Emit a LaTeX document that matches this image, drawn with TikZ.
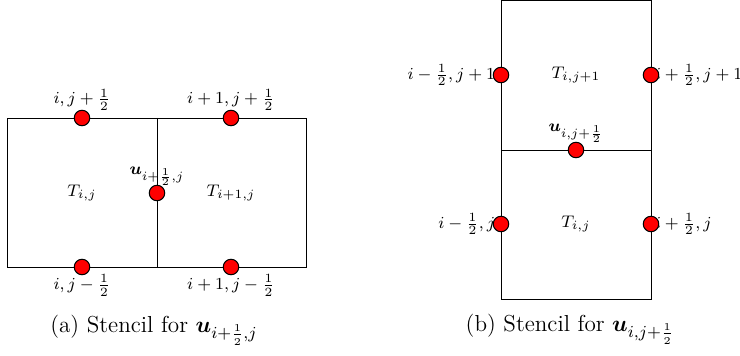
\documentclass[tikz,border=0pt]{standalone}
\usepackage{amsmath}
\usepackage{bm}
\begin{document}
\begin{tikzpicture}[x=0.4757pt,y=-0.4757pt,
  dot/.style={circle,fill=red,draw=black,line width=0.5pt,minimum size=15.5*0.4757pt,inner sep=0pt},
  grid/.style={line width=0.45pt},
  lbl/.style={font=\fontsize{8.2}{10}\selectfont,inner sep=3.33pt},
  rlbl/.style={lbl,right,inner xsep=1.6pt},
  llbl/.style={lbl,left,inner xsep=2.6pt},
  captext/.style={font=\fontsize{11}{13.5}\selectfont,anchor=base}]
\useasboundingbox (0,0) rectangle (740,356);
% ---------- (a) ----------
\coordinate (a00) at (7,118);
\coordinate (a10) at (157,118);
\coordinate (a20) at (306,118);
\coordinate (a01) at (7,267);
\coordinate (a11) at (157,267);
\coordinate (a21) at (306,267);
\draw[grid] (a00) -- (a20) -- (a21) -- (a01) -- cycle;
\draw[grid] (a10) -- (a11);
\coordinate (pa1) at (82,118);
\coordinate (pa2) at (231,118);
\coordinate (pa3) at (157,193);
\coordinate (pa4) at (82,267);
\coordinate (pa5) at (231,267);
\node[lbl] (Ta) at (82,193) {$T_{i,j}$};
\node[lbl] (Tb) at (231,193) {$T_{i+1,j}$};
\node[lbl,above] (la1) at (pa1) {$i,j+\frac{1}{2}$};
\node[lbl,above] (la2) at (pa2) {$i+1,j+\frac{1}{2}$};
\node[lbl,above] (la3) at (pa3) {$\bm{u}_{i+\frac{1}{2},j}$};
\node[lbl,below] (la4) at (pa4) {$i,j-\frac{1}{2}$};
\node[lbl,below] (la5) at (pa5) {$i+1,j-\frac{1}{2}$};
\node[dot] (da1) at (pa1) {};
\node[dot] (da2) at (pa2) {};
\node[dot] (da3) at (pa3) {};
\node[dot] (da4) at (pa4) {};
\node[dot] (da5) at (pa5) {};
\node[captext] (capa) at (154,333) {(a) Stencil for $\bm{u}_{i+\frac{1}{2},j}$};
% ---------- (b) ----------
\coordinate (b00) at (501,0);
\coordinate (b10) at (651,0);
\coordinate (b01) at (501,150);
\coordinate (b11) at (651,150);
\coordinate (b02) at (501,299);
\coordinate (b12) at (651,299);
\draw[grid] (b00) -- (b10) -- (b12) -- (b02) -- cycle;
\draw[grid] (b01) -- (b11);
\coordinate (pb1) at (501,75);
\coordinate (pb2) at (651,75);
\coordinate (pb3) at (576,150);
\coordinate (pb4) at (501,224);
\coordinate (pb5) at (651,224);
\node[lbl] (Tc) at (576,75) {$T_{i,j+1}$};
\node[lbl] (Td) at (576,224) {$T_{i,j}$};
\node[llbl] (lb1) at (pb1) {$i-\frac{1}{2},j+1$};
\node[rlbl] (lb2) at (pb2) {$i+\frac{1}{2},j+1$};
\node[lbl,above] (lb3) at (pb3) {$\bm{u}_{i,j+\frac{1}{2}}$};
\node[llbl] (lb4) at (pb4) {$i-\frac{1}{2},j$};
\node[rlbl] (lb5) at (pb5) {$i+\frac{1}{2},j$};
\node[dot] (db1) at (pb1) {};
\node[dot] (db2) at (pb2) {};
\node[dot] (db3) at (pb3) {};
\node[dot] (db4) at (pb4) {};
\node[dot] (db5) at (pb5) {};
\node[captext] (capb) at (570,332) {(b) Stencil for $\bm{u}_{i,j+\frac{1}{2}}$};
\end{tikzpicture}
\end{document}
